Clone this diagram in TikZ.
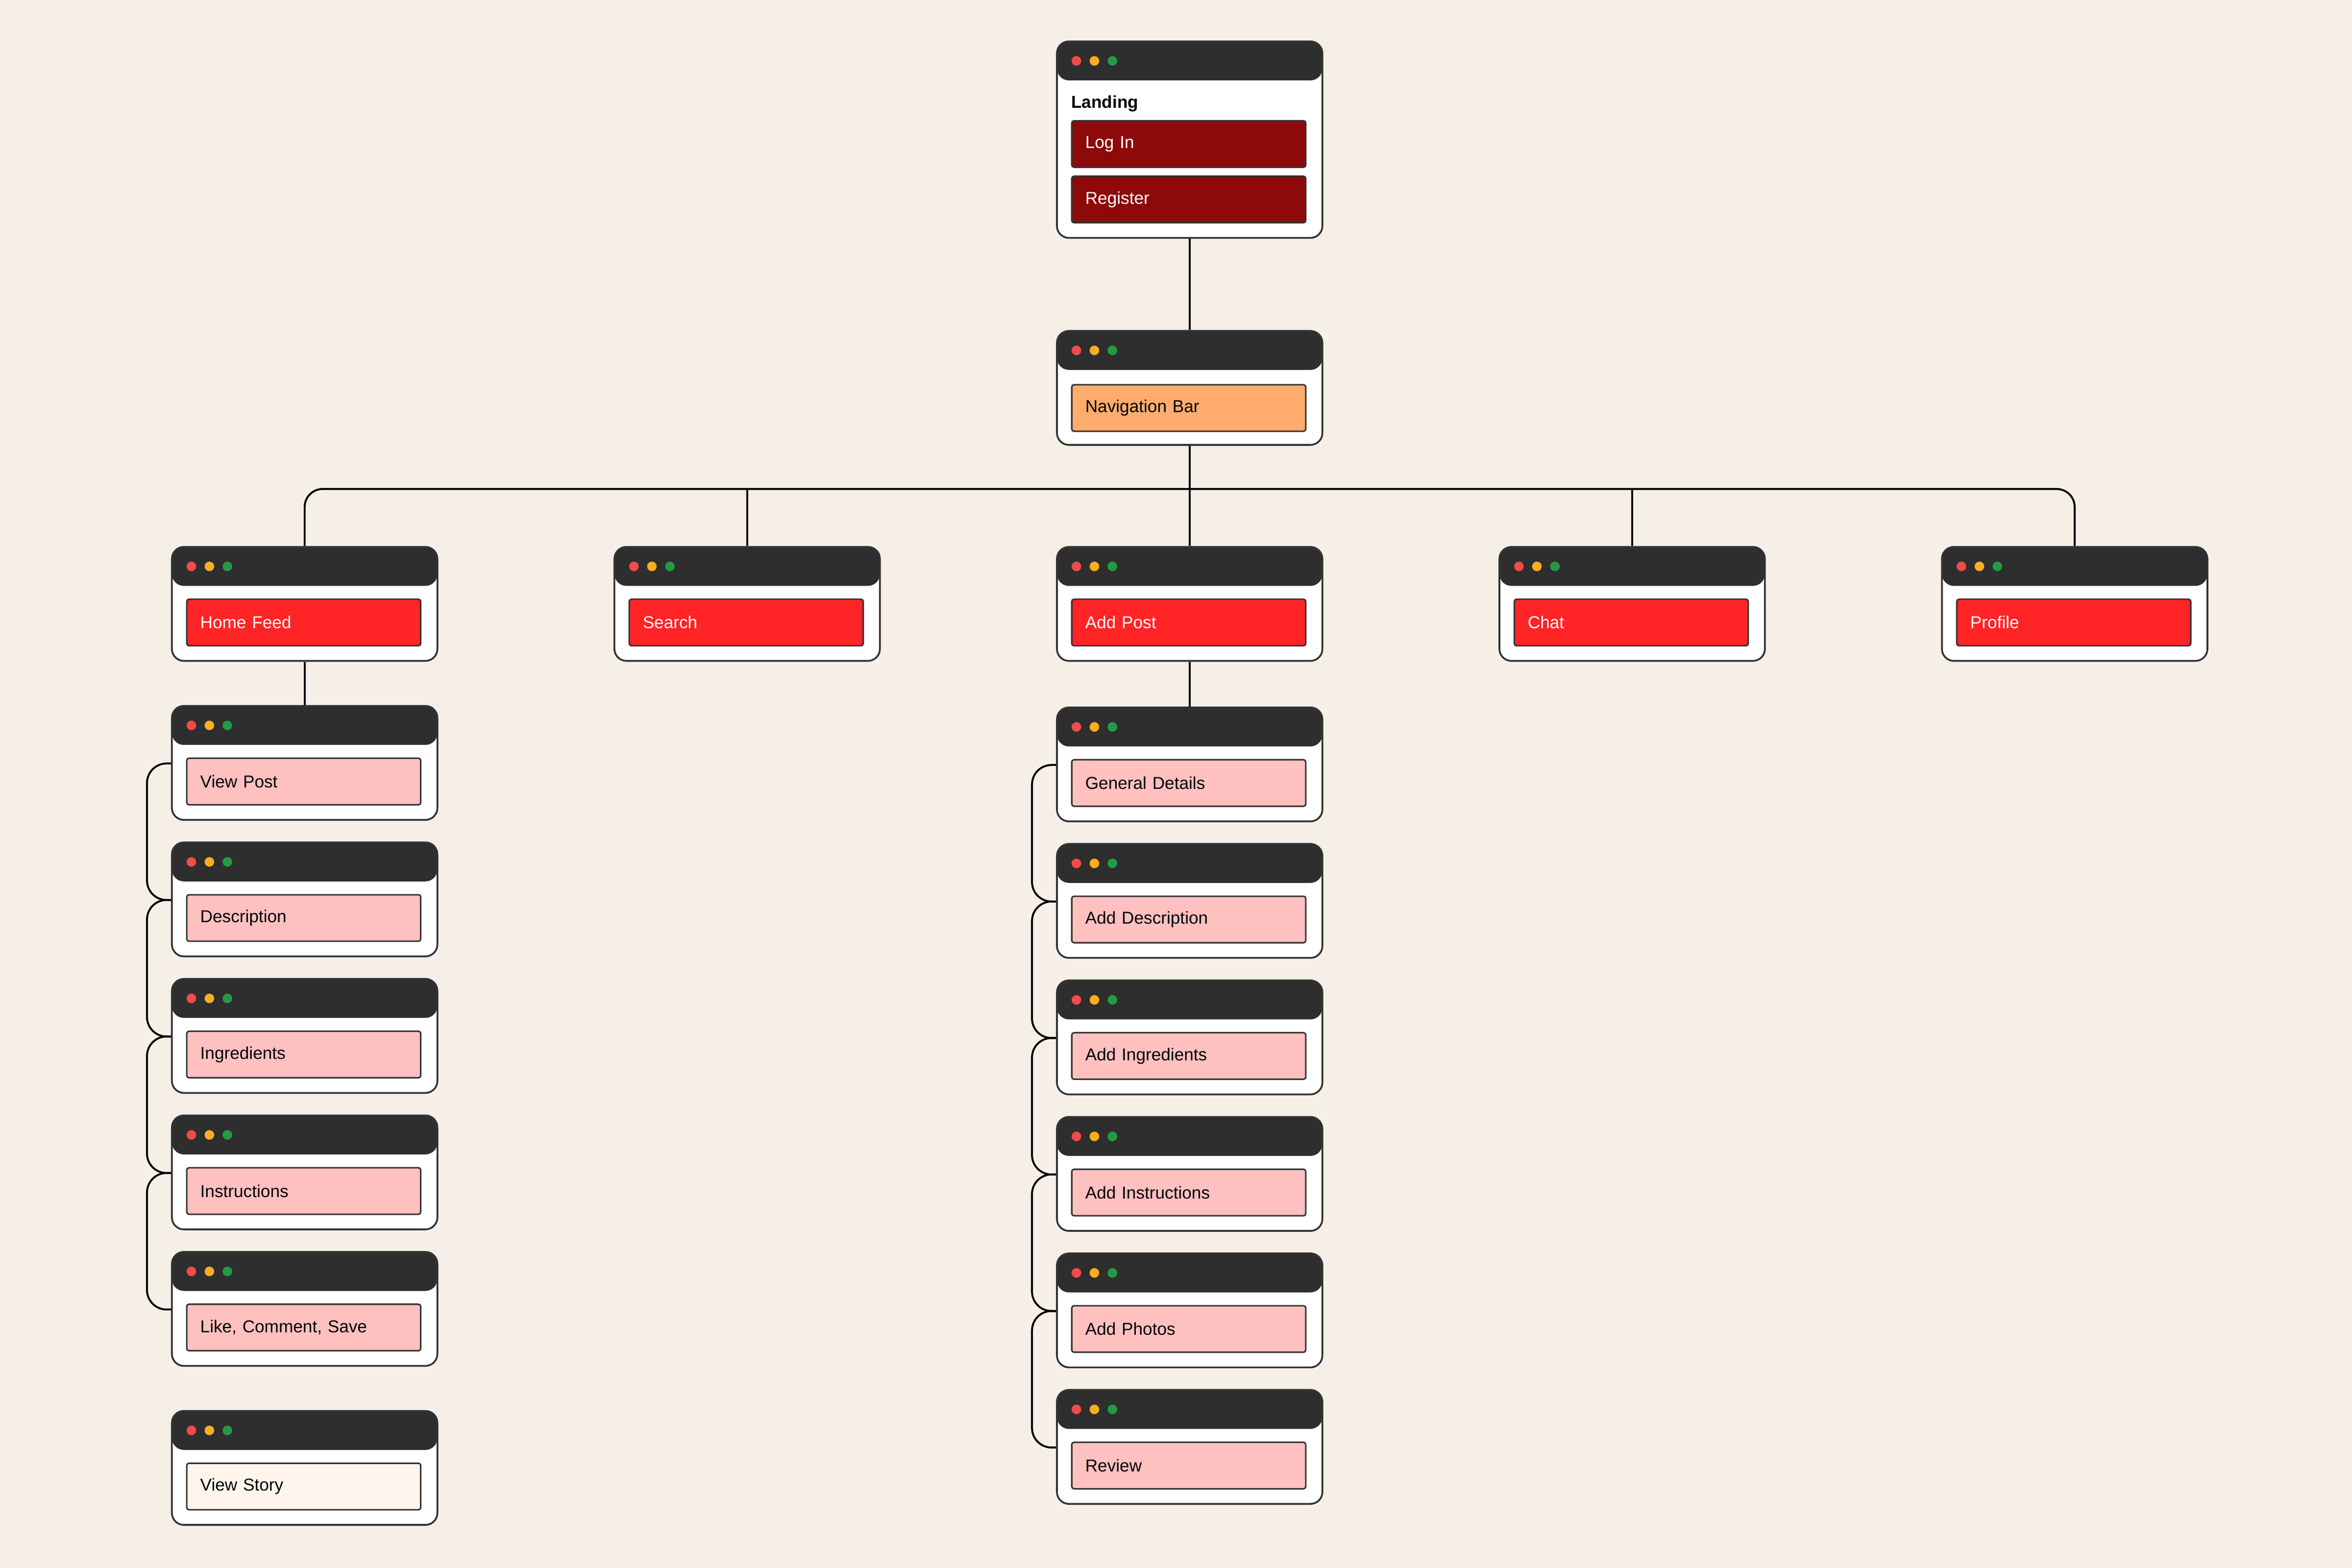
\documentclass[tikz,border=0pt]{standalone}
\usepackage{fontspec}
\setmainfont{Liberation Sans}
\usepackage{tikz}
\definecolor{paper}{HTML}{F6EFE8}
\definecolor{bar}{HTML}{2E2E2E}
\definecolor{edge}{HTML}{333333}
\definecolor{dotred}{HTML}{F24B4B}
\definecolor{dotyellow}{HTML}{FBAE1F}
\definecolor{dotgreen}{HTML}{239B45}
\definecolor{darkred}{HTML}{8E0A0A}
\definecolor{brightred}{HTML}{FF2426}
\definecolor{pinkish}{HTML}{FFC0C0}
\definecolor{peach}{HTML}{FFAC6E}
\definecolor{cream}{HTML}{FFF5ED}

\begin{document}
\begin{tikzpicture}[x=1pt, y=-1pt, every node/.style={font=\fontsize{11.5}{13}\selectfont},
    win/.style={draw=edge, line width=1.2pt, fill=white, rounded corners=8pt,
      minimum width=177pt, minimum height=76pt, inner sep=0pt, anchor=north west,
      path picture={
        \fill[bar] (path picture bounding box.north west) rectangle ([yshift=-26pt]path picture bounding box.north east);
        \fill[dotred] ([xshift=13pt,yshift=-13pt]path picture bounding box.north west) circle (3.2pt);
        \fill[dotyellow] ([xshift=25pt,yshift=-13pt]path picture bounding box.north west) circle (3.2pt);
        \fill[dotgreen] ([xshift=37pt,yshift=-13pt]path picture bounding box.north west) circle (3.2pt);
      }},
    btn/.style={draw=edge, line width=1pt, rounded corners=1.5pt, anchor=north west,
      text width=138pt, inner xsep=9pt, minimum height=31pt, align=left},
    link/.style={draw=black, line width=1.3pt}]
      % background
      \fill[paper] (0,0) rectangle (1568,1045.33);
      % Landing window
      \node[win, minimum height=131pt] (landing) at (704,27) {};
      \node[anchor=west, inner sep=0pt, font=\fontsize{11.5}{13}\selectfont\bfseries] (landtitle) at ([xshift=10pt,yshift=-42pt]landing.north west) {Landing};
      \node[btn, fill=darkred, text=white] (login) at ([xshift=10pt,yshift=-53pt]landing.north west) {Log In};
      \node[btn, fill=darkred, text=white] (register) at ([xshift=10pt,yshift=-90pt]landing.north west) {Register};
      % Navigation bar window
      \node[win] (nav) at (704,220) {};
      \node[btn, fill=peach] (navbtn) at ([xshift=10pt,yshift=-36pt]nav.north west) {Navigation Bar};
      % main sections
      \foreach \n/\t [count=\i from 0] in {home/Home Feed, search/Search, addpost/Add Post, chat/Chat, profile/Profile} {
        \node[win] (\n) at (114+295*\i,364) {};
        \node[btn, fill=brightred, text=white] (\n-btn) at ([xshift=10pt,yshift=-35pt]\n.north west) {\t};
      }
      % home feed screens
      \foreach \n/\t [count=\i from 0] in {viewpost/View Post, desc/Description, ingr/Ingredients, instr/Instructions, like/{Like, Comment, Save}} {
        \node[win] (\n) at (114,470+91*\i) {};
        \node[btn, fill=pinkish] (\n-btn) at ([xshift=10pt,yshift=-35pt]\n.north west) {\t};
      }
      \node[win] (story) at (114,940) {};
      \node[btn, fill=cream] (story-btn) at ([xshift=10pt,yshift=-35pt]story.north west) {View Story};
      % add post screens
      \foreach \n/\t [count=\i from 0] in {general/General Details, adddesc/Add Description, addingr/Add Ingredients, addinstr/Add Instructions, photos/Add Photos, review/Review} {
        \node[win] (\n) at (704,471+91*\i) {};
        \node[btn, fill=pinkish] (\n-btn) at ([xshift=10pt,yshift=-35pt]\n.north west) {\t};
      }
      % connectors
      \draw[link] (landing) -- (nav);
      \draw[link] (nav) -- (addpost);
      \coordinate (bus) at (792.5,326);
      \draw[link, rounded corners=12pt] (home.north) |- (bus) -| (profile.north);
      \draw[link] (search.north) -- (search.north |- bus);
      \draw[link] (chat.north) -- (chat.north |- bus);
      \draw[link] (home) -- (viewpost);
      \draw[link] (addpost) -- (general);
      % step brackets
      \foreach \a/\b in {viewpost/desc, desc/ingr, ingr/instr, instr/like, general/adddesc, adddesc/addingr, addingr/addinstr, addinstr/photos, photos/review}
        \draw[link, rounded corners=13pt] ([yshift=-39pt]\a.north west) -- ++(-16,0) |- ([yshift=-39pt]\b.north west);
    \end{tikzpicture}
\end{document}
